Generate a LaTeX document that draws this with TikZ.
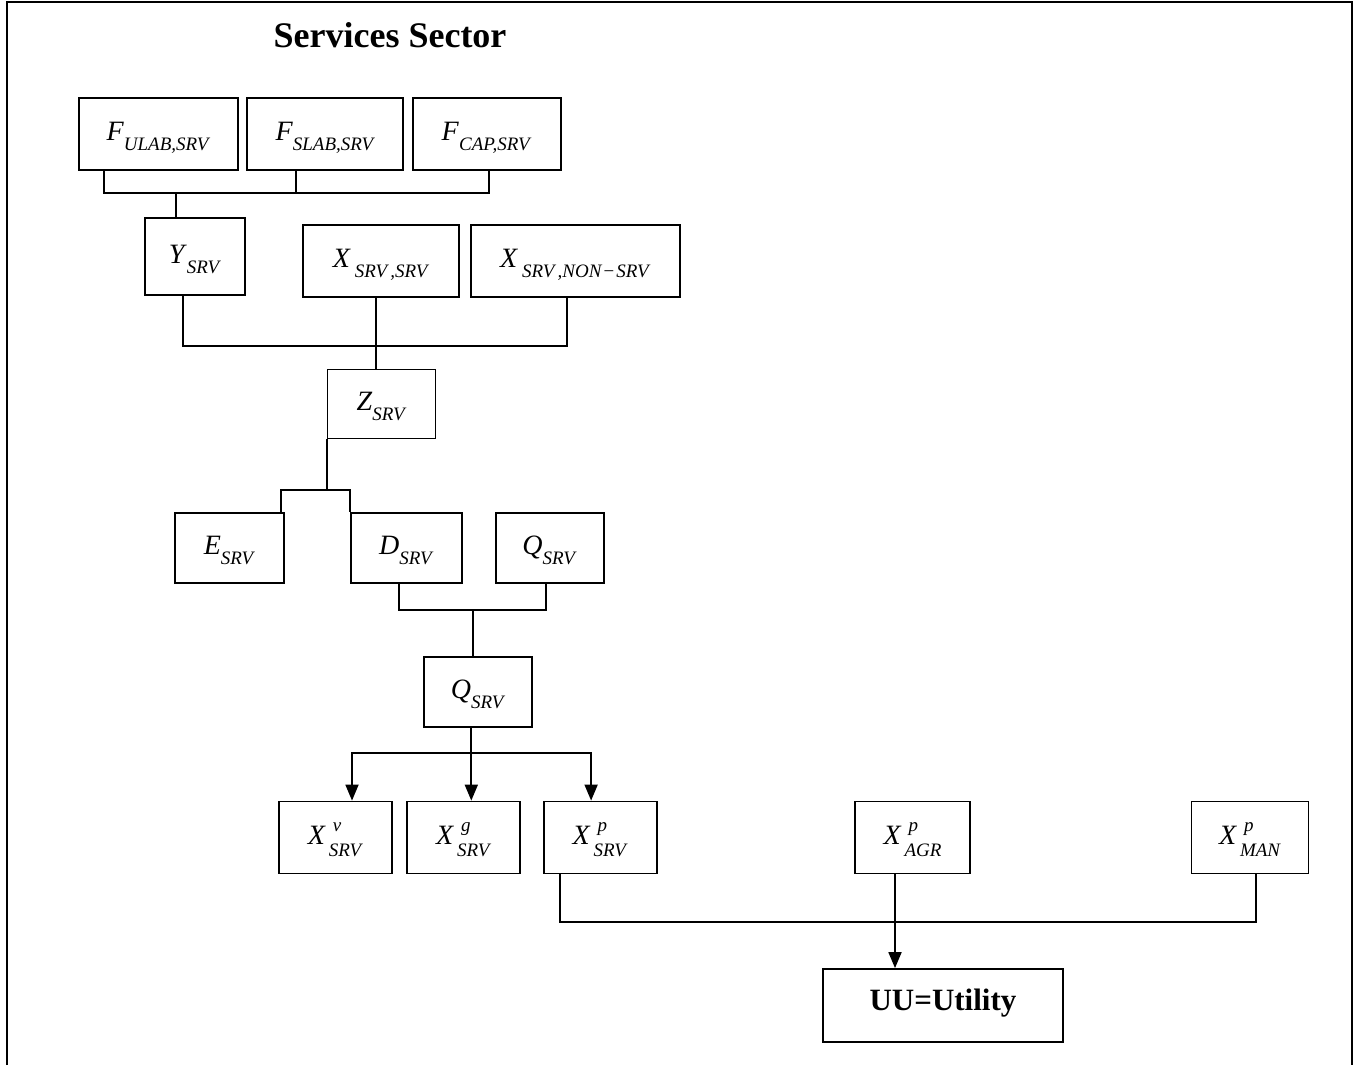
\documentclass[tikz,border=0pt]{standalone}
\usepackage{fontspec}
\setmainfont{Liberation Serif}
\usepackage{tikz}
\usetikzlibrary{arrows.meta,positioning}
\tikzstyle{line} = [draw, line width=1.8pt, -{Triangle[length=16pt,width=13pt]}]
% variable with subscript, superscript
\newcommand{\subsz}{\fontsize{19}{19}\selectfont}
\newcommand{\vsub}[2]{\textit{#1}\raisebox{-10pt}{\subsz\textit{#2}}}
\newcommand{\vsubx}[2]{\textit{#1}\kern4pt\raisebox{-10pt}{\subsz\textit{#2}}}
\newcommand{\vsupsub}[3]{\textit{#1}\kern3pt\rlap{\kern4pt\raisebox{13pt}{\subsz\textit{#2}}}\raisebox{-12pt}{\subsz\textit{#3}}}

\begin{document}
\begin{tikzpicture}
 	[x=1pt, y=-1pt, font=\fontsize{28}{30}\selectfont,
 	% STYLES
 	% The box style is used for every variable of the sector
 	box/.style={rectangle, draw, line width=1.8pt, inner sep=0pt, minimum height=72pt, text height=20pt, text depth=7pt},
 	% The link style is used for the plain connectors
 	link/.style={draw, line width=1.8pt}]
 	\useasboundingbox (0,0) rectangle (1359,1065);
 	
 	% frame and title
 	\draw[line width=2pt] (7,1065) -- (7,2.5) -- (1352,2.5) -- (1352,1065);
 	\node[font=\fontsize{36}{40}\selectfont\bfseries, anchor=base] (title) at (390,48) {Services Sector};
 	
 	% factors
 	\node [box, minimum width=159pt] (Fulab) at (158.5,134) {\vsub{F}{ULAB,SRV}};
 	\node [box, minimum width=156pt, right=7.5pt of Fulab] (Fslab) {\vsub{F}{SLAB,SRV}};
 	\node [box, minimum width=148pt, right=7.5pt of Fslab] (Fcap) {\vsub{F}{CAP,SRV}};
 	% value added and intermediates
 	\node [box, minimum width=100pt, minimum height=77pt] (Ysrv) at (195,256.5) {\vsub{Y}{SRV}};
 	\node [box, minimum width=156pt] (Xss) at (381,261) {\vsubx{X}{SRV\,,SRV}};
 	\node [box, minimum width=209pt, right=10pt of Xss] (Xsn) {\vsubx{X}{SRV\,,NON\kern1pt−\kern1pt SRV}};
 	% output
 	\node [box, minimum width=108pt, minimum height=69pt] (Zsrv) at (381.5,404) {\vsub{Z}{SRV}};
 	\node [box, minimum width=109pt, minimum height=70pt] (Esrv) at (229.5,548) {\vsub{E}{SRV}};
 	\node [box, minimum width=111pt, minimum height=70pt, right=65pt of Esrv] (Dsrv) {\vsub{D}{SRV}};
 	\node [box, minimum width=108pt, minimum height=70pt, right=32pt of Dsrv] (Qsrv) {\vsub{Q}{SRV}};
 	\node [box, minimum width=108pt, minimum height=70pt] (Qtot) at (478,692) {\vsub{Q}{SRV}};
 	% demand
 	\node [box, minimum width=113pt] (Xv) at (335.5,837.5) {\vsupsub{X}{v}{SRV}};
 	\node [box, minimum width=113pt, right=13.5pt of Xv] (Xg) {\vsupsub{X}{g}{SRV}};
 	\node [box, minimum width=113pt, right=21.5pt of Xg] (Xps) {\vsupsub{X}{p}{SRV}};
 	\node [box, minimum width=115pt] (Xpa) at (912.5,837.5) {\vsupsub{X}{p}{AGR}};
 	\node [box, minimum width=117pt] (Xpm) at (1250,837.5) {\vsupsub{X}{p}{MAN}};
 	\node [box, minimum width=240pt, minimum height=73pt, text height=21pt, text depth=11pt, font=\fontsize{31}{34}\selectfont\bfseries] (UU) at (943,1005.5) {UU=Utility};
 	
 	% heights of the buses
 	\coordinate (fbus) at (0,193);
 	\coordinate (xbus) at (0,346);
 	\coordinate (ebus) at (0,490);
 	\coordinate (qbus) at (0,610);
 	\coordinate (sbus) at (0,753);
 	\coordinate (ubus) at (0,922);
 	% drop points on the boxes
 	\coordinate (fu) at ([xshift=-54.5pt]Fulab.south);
 	\coordinate (fs) at ([xshift=-29pt]Fslab.south);
 	\coordinate (fc) at ([xshift=2pt]Fcap.south);
 	\coordinate (yt) at ([xshift=-19pt]Ysrv.north);
 	\coordinate (yd) at ([xshift=-12pt]Ysrv.south);
 	\coordinate (xsd) at ([xshift=-5pt]Xss.south);
 	\coordinate (xnd) at ([xshift=-8.5pt]Xsn.south);
 	\coordinate (ed) at ([xshift=-4pt]Esrv.north east);
 	\coordinate (dd) at ([xshift=-7pt]Dsrv.south);
 	\coordinate (qd) at ([xshift=-4pt]Qsrv.south);
 	\coordinate (qt) at ([xshift=-5pt]Qtot.north);
 	\coordinate (xv) at ([xshift=16.5pt]Xv.north);
 	\coordinate (xg) at ([xshift=7.5pt]Xg.north);
 	\coordinate (xps) at ([xshift=-9pt]Xps.north);
 	\coordinate (xpsd) at ([xshift=-40pt]Xps.south);
 	\coordinate (xpad) at ([xshift=-17.5pt]Xpa.south);
 	\coordinate (xpmd) at ([xshift=6pt]Xpm.south);
 	
 	% factors into value added
 	\draw[link] (fu) |- (fc |- fbus) -- (fc);
 	\draw[link] (fs) -- (fs |- fbus);
 	\draw[link] (yt) -- (yt |- fbus);
 	% value added and intermediates into output
 	\draw[link] (yd) |- (xnd |- xbus) -- (xnd);
 	\draw[link] (xsd) -- (xsd |- Zsrv.north);
 	% output into exports and domestic
 	\draw[link] (Zsrv.south west) -- (Zsrv.south west |- ebus);
 	\draw[link] (ed) |- (Dsrv.north west |- ebus) -- (Dsrv.north west);
 	\draw[link] (dd) |- (qd |- qbus) -- (qd);
 	\draw[link] (qt) -- (qt |- qbus);
 	% composite into demand
 	\draw[line] (xg |- Qtot.south) -- (xg);
 	\draw[line] (xg |- sbus) -| (xv);
 	\draw[line] (xg |- sbus) -| (xps);
 	% demand into utility
 	\draw[link] (xpsd) |- (xpmd |- ubus) -- (xpmd);
 	\draw[line] (xpad) -- (xpad |- UU.north);
 	
\end{tikzpicture}
\end{document}
